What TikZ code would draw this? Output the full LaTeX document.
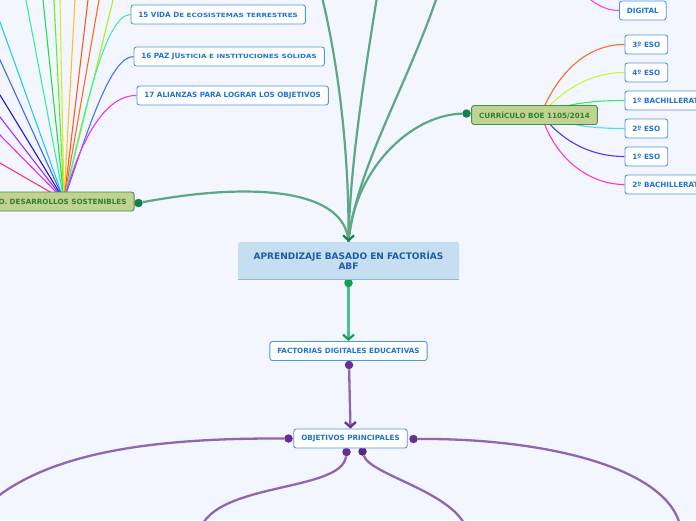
\documentclass[tikz,border=0pt]{standalone}
\usepackage{fontspec}
\setmainfont{DejaVu Sans}
\usepackage{graphicx}
\usepackage{xcolor}
\usetikzlibrary{positioning,arrows.meta,calc}

\definecolor{paper}{HTML}{F3F6FE}
\definecolor{topicdraw}{HTML}{4D95E8}
\definecolor{topictext}{HTML}{1F73D8}
\definecolor{mainfill}{HTML}{C5DEF0}
\definecolor{mainrule}{HTML}{8FB8DC}
\definecolor{maintext}{HTML}{1D5DA6}
\definecolor{olivefill}{HTML}{C2D290}
\definecolor{olivedraw}{HTML}{3F8F4F}
\definecolor{olivetext}{HTML}{2E7F36}
\definecolor{greenline}{HTML}{5BA882}
\definecolor{greendot}{HTML}{17804A}
\definecolor{factline}{HTML}{4CC08A}
\definecolor{factdot}{HTML}{12A050}
\definecolor{purpleline}{HTML}{8F66B2}
\definecolor{purpledot}{HTML}{6A2E91}

\pgfdeclarelayer{paperlayer}
\pgfdeclarelayer{linelayer}
\pgfsetlayers{paperlayer,linelayer,main}

\begin{document}
\begin{tikzpicture}[x=1pt, y=-1pt,
    topic/.style={draw=topicdraw, line width=0.9pt, fill=white, rounded corners=2.5pt,
      text=topictext, font=\fontsize{7.2}{8.6}\selectfont\bfseries,
      inner xsep=7.5pt, inner ysep=0pt, minimum height=19pt},
    olive/.style={topic, draw=olivedraw, fill=olivefill, text=olivetext},
    bigtopic/.style={fill=mainfill, text=maintext, rounded corners=1.5pt,
      font=\fontsize{9}{10.5}\selectfont\bfseries, align=center,
      minimum width=221pt, minimum height=37pt, inner sep=0pt},
    knob/.style={circle, inner sep=0pt, minimum size=8.5pt},
    gline/.style={draw=greenline, line width=2.2pt},
    pline/.style={draw=purpleline, line width=2.3pt},
    twig/.style={line width=1.1pt},
    barb/.style={-{Straight Barb[length=5pt, width=11pt]}},
  ]
  \useasboundingbox (0,0) rectangle (696,520);
  \begin{pgfonlayer}{paperlayer}
    \fill[paper] (0,0) rectangle (696,520);
  \end{pgfonlayer}
  \clip (0,0) rectangle (696,520);

  % knobs
  \node[knob, fill=greendot] (odsdot) at (138.5,203) {};
  \node[knob, fill=greendot] (currdot) at (466.5,113.5) {};
  \node[knob, fill=factdot] (maindot) at (348.5,283) {};
  \node[knob, fill=purpledot] (factdot) at (349,365) {};
  \node[knob, fill=purpledot] (objwest) at (288.5,438.5) {};
  \node[knob, fill=purpledot] (objeast) at (413.5,439) {};
  \node[knob, fill=purpledot] (objsw) at (346.5,452) {};
  \node[knob, fill=purpledot!85!black] (objse) at (362.5,451.5) {};

  % central topic
  \node[bigtopic] (main) at (348.5,260.5) {APRENDIZAJE BASADO EN FACTORÍAS\\ABF};
  \draw[mainrule, line width=0.8pt] (main.south west) -- (main.south east);
  \node[topic] (fact) at (348.5,351) {FACTORIAS DIGITALES EDUCATIVAS};
  \node[topic] (obj) at (350.5,438.5) {OBJETIVOS PRINCIPALES};

  % ODS branch
  \node[olive, anchor=east] (ods) at (134.5,201.5) {O. DESARROLLOS SOSTENIBLES};
  \node[topic, anchor=west] (ods15) at (130.5,14.5)
    {15 VIDA D\scalebox{1}[0.8]{E ECOSISTEMAS TERRESTRES}};
  \node[topic, anchor=west] (ods16) at (133.5,56.5)
    {16 PAZ JU\scalebox{1}[0.8]{STICIA E INSTITUCIONES SÓLIDAS}};
  \node[topic, anchor=west] (ods17) at (136.5,95.5) {17 ALIANZAS PARA LOGRAR LOS OBJETIVOS};

  % curriculum branch
  \node[olive] (curr) at (534.5,115) {CURRÍCULO BOE 1105/2014};
  \node[topic, anchor=west] (digital) at (619,10.5) {DIGITAL};
  \node[topic, anchor=west] (eso3) at (624.5,44.5) {3º ESO};
  \node[topic, anchor=west] (eso4) at (624.5,72.5) {4º ESO};
  \node[topic, anchor=west] (bach1) at (624.5,100.5) {1º BACHILLERATO};
  \node[topic, anchor=west] (eso2) at (624.5,128.5) {2º ESO};
  \node[topic, anchor=west] (eso1) at (624.5,156.5) {1º ESO};
  \node[topic, anchor=west] (bach2) at (624.5,184.5) {2º BACHILLERATO};

  \begin{pgfonlayer}{linelayer}
    \clip (0,0) rectangle (696,520);
    % green links into the central topic
    \coordinate (sky1) at (322,-3);
    \coordinate (sky2) at (377,-3);
    \coordinate (sky3) at (437,-3);
    \draw[gline] (sky2) .. controls (362,90) and (350,170) .. (main.north);
    \draw[gline] (sky3) .. controls (405,90) and (356,170) .. (main.north);
    \draw[gline] (currdot) .. controls (410,115) and (354,170) .. (main.north);
    \draw[gline] (odsdot) .. controls (250,182) and (345,188) .. (main.north);
    \draw[gline, barb, -{Straight Barb[length=5pt, width=11pt, color=greendot]}]
      (sky1) .. controls (342,80) and (349,170) .. (main.north);
    % down the spine
    \draw[draw=factline, line width=2.2pt, -{Straight Barb[length=5pt, width=11pt, color=factdot]}]
      (maindot) -- (fact.north);
    \draw[pline, -{Straight Barb[length=5pt, width=11pt, color=purpledot]}]
      (factdot) -- (obj.north);
    % objectives
    \coordinate (wfar) at (-20,512);
    \coordinate (efar) at (681,530);
    \coordinate (swfar) at (200,530);
    \coordinate (sefar) at (467,530);
    \draw[pline] (objwest) .. controls (160,438) and (40,450) .. (wfar);
    \draw[pline] (objeast) .. controls (545,438) and (672,468) .. (efar);
    \draw[pline] (objsw) .. controls (342,492) and (215,482) .. (swfar);
    \draw[pline] (objse) .. controls (370,475) and (455,492) .. (sefar);

    % fan of the ODS
    \coordinate (fan) at (64,200);
    \foreach \ex/\ey/\hex [count=\k] in {26/0/33F0A0, 43/0/22DD44, 54/0/66EE22,
        60/0/CCEE33, 75/0/FFC020, 88/0/FF5A1A, 99/0/FF6A22, 113/0/AAEE22,
        0/22/22CCF0, 0/60/3A6AEE, 0/95/2A10DD, 0/117/9A33EE, 0/135/EE22EE,
        0/163/FF3380} {
      \definecolor{fancol}{HTML}{\hex}
      \coordinate (ray\k) at ($(fan)!1.1!(\ex,\ey)$);
      \draw[twig, fancol] (fan) -- (ray\k);
    }
    \draw[twig, color={rgb,255:red,68;green,238;blue,170}]
      (fan) .. controls (85,110) and (105,15) .. (ods15.west);
    \draw[twig, color={rgb,255:red,68;green,119;blue,238}]
      (fan) .. controls (88,130) and (110,57) .. (ods16.west);
    \draw[twig, color={rgb,255:red,238;green,51;blue,238}]
      (fan) .. controls (80,140) and (105,95) .. (ods17.west);

    % curriculum
    \coordinate (hub) at (541,114);
    \coordinate (dtop) at (586,-4);
    \draw[twig, color={rgb,255:red,255;green,68;blue,221}]
      (dtop) .. controls (600,8) and (610,10.5) .. (digital.west);
    \draw[twig, color={rgb,255:red,255;green,106;blue,42}]
      (hub) .. controls (560,68) and (590,44.5) .. (eso3.west);
    \draw[twig, color={rgb,255:red,204;green,245;blue,58}]
      (hub) .. controls (568,85) and (595,72.5) .. (eso4.west);
    \draw[twig, color={rgb,255:red,51;green,238;blue,102}]
      (hub) .. controls (570,102) and (600,100.5) .. (bach1.west);
    \draw[twig, color={rgb,255:red,68;green,221;blue,245}]
      (hub) .. controls (570,127) and (600,128.5) .. (eso2.west);
    \draw[twig, color={rgb,255:red,85;green,51;blue,255}]
      (hub) .. controls (565,145) and (595,156.5) .. (eso1.west);
    \draw[twig, color={rgb,255:red,255;green,51;blue,221}]
      (hub) .. controls (555,160) and (590,184.5) .. (bach2.west);
  \end{pgfonlayer}
\end{tikzpicture}
\end{document}
